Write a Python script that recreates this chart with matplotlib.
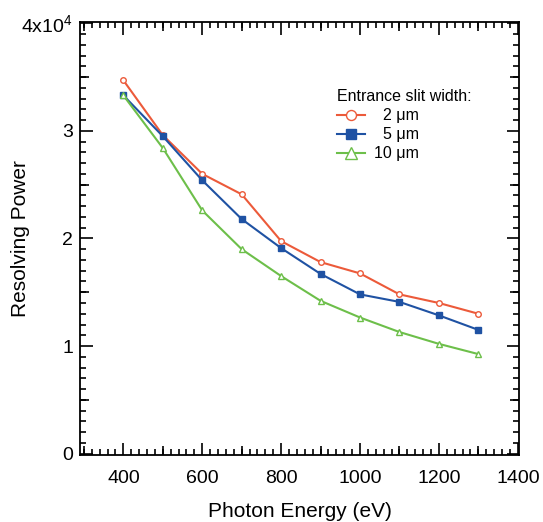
import matplotlib
matplotlib.use("Agg")
import matplotlib.pyplot as plt
from matplotlib.ticker import FuncFormatter, MultipleLocator, FixedLocator

plt.rcParams["font.family"] = ["Liberation Sans", "DejaVu Sans"]
plt.rcParams["mathtext.fontset"] = "custom"
plt.rcParams["mathtext.rm"] = "Liberation Sans"

# photon energy (eV)
energy = [400, 500, 600, 700, 800, 900, 1000, 1100, 1200, 1300]
# resolving power per entrance slit width
rp_2um = [34700, 29600, 26000, 24100, 19750, 17800, 16750, 14800, 14000, 13000]
rp_5um = [33300, 29500, 25400, 21800, 19100, 16700, 14800, 14100, 12850, 11500]
rp_10um = [33300, 28400, 22600, 19000, 16500, 14200, 12650, 11300, 10200, 9250]

series = [
    (rp_2um, "  2 \u03bcm", "#ec5a3a", "o", "white", 4.0),
    (rp_5um, "  5 \u03bcm", "#1f52a3", "s", "#1f52a3", 4.0),
    (rp_10um, "10 \u03bcm", "#6dbf4a", "^", "white", 5.0),
]

fig = plt.figure(figsize=(5.43, 5.22), dpi=100)
ax = fig.add_axes([80 / 543, 1 - 454.5 / 522, 439 / 543, 432.8 / 522])

for vals, label, color, marker, face, ms in series:
    ax.plot(energy, vals, color=color, lw=1.5, marker=marker, ms=ms,
            mfc=face, mec=color, mew=1.0, label=label)

ax.set_xlim(290, 1403)
ax.set_ylim(-84, 40150)

ax.xaxis.set_major_locator(MultipleLocator(200))
ax.xaxis.set_minor_locator(MultipleLocator(20))
ax.yaxis.set_major_locator(MultipleLocator(10000))
ax.yaxis.set_minor_locator(MultipleLocator(1000))


def yfmt(val, pos):
    n = int(round(val / 10000))
    if n == 4:
        return r"4x10$^4$"
    return str(n)


ax.yaxis.set_major_formatter(FuncFormatter(yfmt))

ax.tick_params(which="both", direction="in", top=True, right=True,
               width=1.2, labelsize=14)
ax.tick_params(axis="y", which="both", pad=5)
ax.tick_params(axis="x", which="both", pad=11)
ax.tick_params(which="major", length=9)
ax.tick_params(which="minor", length=4)
for sp in ax.spines.values():
    sp.set_linewidth(1.3)

# medium ticks (every 100 eV and every 5000)
mid_x = [300, 500, 700, 900, 1100, 1300]
mid_y = [5000, 15000, 25000, 35000]
for side in ("bottom", "top"):
    sec = ax.secondary_xaxis(side)
    sec.xaxis.set_major_locator(FixedLocator(mid_x))
    sec.tick_params(direction="in", length=6.5, width=1.2,
                    labelbottom=False, labeltop=False)
    for sp in sec.spines.values():
        sp.set_visible(False)
for side in ("left", "right"):
    sec = ax.secondary_yaxis(side)
    sec.yaxis.set_major_locator(FixedLocator(mid_y))
    sec.tick_params(direction="in", length=6.5, width=1.2,
                    labelleft=False, labelright=False)
    for sp in sec.spines.values():
        sp.set_visible(False)

ax.set_xlabel("Photon Energy (eV)", fontsize=15)
ax.set_ylabel("Resolving Power", fontsize=15)
ax.xaxis.set_label_coords(0.5, -0.11)
ax.yaxis.set_label_coords(-0.113, 0.5)

leg = ax.legend(title="Entrance slit width:", loc="upper left",
                bbox_to_anchor=(0.559, 0.87), frameon=False, fontsize=11.5,
                title_fontsize=11.5, markerscale=1.8, handlelength=1.75,
                labelspacing=0.25, handletextpad=0.6, borderpad=0.2)
leg._legend_box.align = "left"

fig.savefig("out.png", dpi=100)
